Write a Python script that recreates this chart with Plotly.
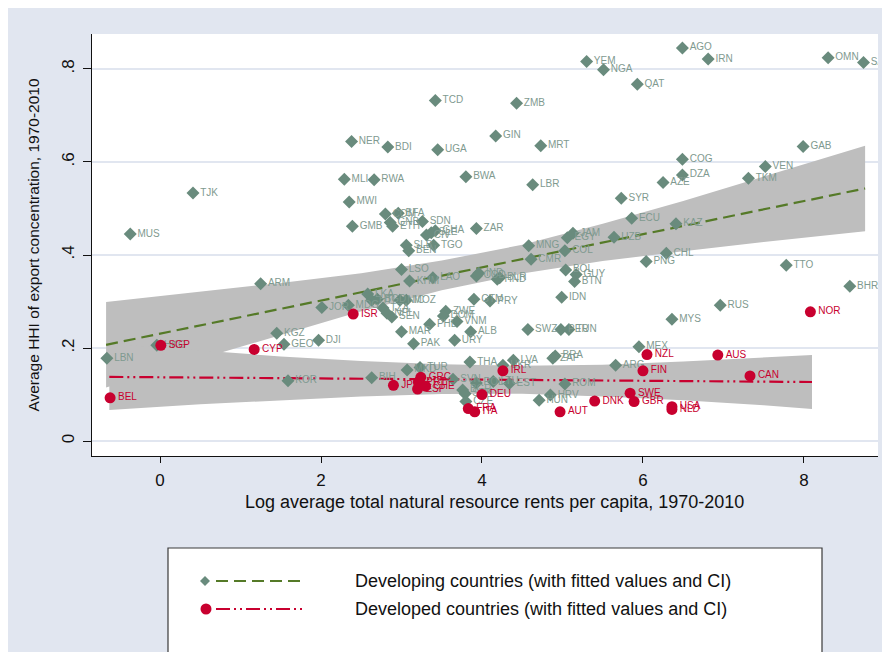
import plotly.graph_objects as go

# ---------------- data ----------------
dev_codes = ["TJK","MUS","NER","MLI","MWI","GMB","YEM","NGA","TCD","ZMB","GIN","MRT","BDI","UGA",
             "RWA","BWA","LBR","COM","BFA","GNB","ETH","SDN","CIV","SLE","GHA","SLB","BEN","TGO",
             "ZAR","EGY","JAM","UZB","ECU","MNG","CMR","COL","BOL","GUY","BTN","IDN","PNG","CHL",
             "TTO","BHR","RUS","MYS","MEX","ARG","SWZ","PER","TUN","ALB","URY","VNM","ZWE","DOM",
             "PHL","MAR","PAK","GTM","PRY","COD","IND","HND","BLR","LSO","KHM","LAO","JOR","MDG",
             "LKA","HTI","BGD","NIC","MOZ","TZA","NPL","SEN","KGZ","GEO","DJI","ARM","LBN","HKG",
             "KOR","BIH","MKD","TUR","SVN","POL","LTU","EST","LVA","UKR","THA","BGR","SVK","CZE",
             "ROM","HRV","HUN","BRA","ZAF","AGO","IRN","QAT","OMN","SAU","GAB","COG","DZA","AZE",
             "VEN","TKM","SYR","KAZ"]
dev_rents = [0.41,-0.37,2.38,2.29,2.35,2.39,5.30,5.51,3.42,4.43,4.17,4.73,2.83,3.45,
             2.66,3.80,4.63,2.80,2.96,2.86,2.89,3.26,3.31,3.37,3.42,3.06,3.09,3.40,
             3.93,5.06,5.13,5.64,5.86,4.58,4.61,5.03,5.04,5.17,5.15,4.99,6.04,6.29,
             7.78,8.57,6.96,6.36,5.95,5.66,4.57,4.98,5.08,3.86,3.66,3.69,3.55,3.52,
             3.35,3.00,3.15,3.90,4.10,3.93,3.96,4.19,4.22,3.00,3.10,3.39,2.01,2.34,
             2.58,2.63,2.70,2.98,3.06,2.77,2.82,2.88,1.45,1.54,1.97,1.25,-0.66,-0.04,
             1.59,2.63,3.07,3.23,3.64,3.93,4.14,4.34,4.39,4.26,3.85,3.76,3.79,3.80,
             5.03,4.85,4.71,4.91,4.88,6.49,6.81,5.93,8.30,8.74,7.99,6.49,6.49,6.25,
             7.52,7.31,5.73,6.41]
dev_hhi = [0.533,0.445,0.644,0.563,0.514,0.462,0.816,0.798,0.732,0.726,0.656,0.635,0.632,0.626,
           0.562,0.568,0.551,0.488,0.490,0.470,0.462,0.472,0.443,0.448,0.452,0.421,0.409,0.421,
           0.457,0.437,0.447,0.438,0.479,0.420,0.391,0.409,0.368,0.358,0.343,0.309,0.386,0.404,
           0.378,0.333,0.292,0.262,0.203,0.163,0.240,0.240,0.240,0.235,0.217,0.257,0.279,0.269,
           0.251,0.235,0.209,0.305,0.301,0.355,0.361,0.348,0.351,0.369,0.344,0.351,0.287,0.292,
           0.316,0.303,0.305,0.303,0.303,0.286,0.275,0.267,0.232,0.208,0.217,0.338,0.178,0.206,
           0.130,0.136,0.153,0.158,0.133,0.125,0.128,0.124,0.174,0.163,0.170,0.110,0.102,0.085,
           0.123,0.099,0.088,0.183,0.178,0.845,0.821,0.767,0.824,0.814,0.633,0.606,0.572,0.556,
           0.590,0.565,0.522,0.467]

dvd_codes = ["SGP","CYP","BEL","ISR","JPN","GRC","PRT","ESP","CHE","DEU","FRA","ITA","IRL","AUT",
             "DNK","SWE","GBR","FIN","NZL","AUS","CAN","USA","NLD","NOR"]
dvd_rents = [0.01,1.17,-0.62,2.40,2.90,3.24,3.21,3.20,3.30,4.00,3.83,3.91,4.26,4.97,
             5.40,5.84,5.89,6.00,6.05,6.93,7.33,6.36,6.36,8.08]
dvd_hhi = [0.206,0.197,0.093,0.273,0.120,0.137,0.127,0.112,0.118,0.100,0.070,0.063,0.151,0.063,
           0.086,0.103,0.085,0.151,0.186,0.185,0.140,0.074,0.068,0.278]

# fitted lines and confidence bands
dev_fit_x = [-0.67, 8.76]
dev_fit_y = [0.207, 0.543]
dev_ci_x = [-0.67, 0.5, 1.5, 2.5, 3.5, 4.5, 5.5, 6.5, 7.5, 8.76]
dev_ci_lo = [0.115, 0.177, 0.228, 0.279, 0.324, 0.360, 0.387, 0.408, 0.428, 0.451]
dev_ci_hi = [0.299, 0.321, 0.340, 0.361, 0.388, 0.422, 0.467, 0.516, 0.568, 0.635]

dvd_fit_x = [-0.63, 8.10]
dvd_fit_y = [0.138, 0.127]
dvd_ci_x = [-0.63, 0.5, 1.5, 2.5, 3.5, 4.5, 5.5, 6.5, 7.5, 8.10]
dvd_ci_lo = [0.067, 0.079, 0.088, 0.096, 0.101, 0.102, 0.096, 0.088, 0.077, 0.069]
dvd_ci_hi = [0.209, 0.195, 0.182, 0.172, 0.165, 0.162, 0.164, 0.171, 0.179, 0.185]

y_ticks = [0, 0.2, 0.4, 0.6, 0.8]
y_ticktext = ["0", ".2", ".4", ".6", ".8"]
x_ticks = [0, 2, 4, 6, 8]

x_title = "Log average total natural resource rents per capita, 1970-2010"
y_title = "Average HHI of export concentration, 1970-2010"
legend_labels = ["Developing countries (with fitted values and CI)",
                 "Developed countries (with fitted values and CI)"]

# ---------------- styles ----------------
BAND = "#bebebe"
GREEN_M = "#698b7d"
GREEN_T = "#7f9a90"
GREEN_L = "#557a28"
RED = "#c8002f"
BG = "#e1e6f0"
FONT = "Arial, Liberation Sans, sans-serif"

OFF = 8  # page body margin: figure origin sits at (8, 8) on the page
W, H = 890, 652
ML, MT = 92 - OFF, 34 - OFF
MR = W - (878 - OFF)
MB = H - (456 - OFF)
PW, PH = W - ML - MR, H - MT - MB


def px_x(p):
    # page pixel -> paper x
    return (p - OFF - ML) / PW


def px_y(p):
    # page pixel -> paper y
    return (H - MB - (p - OFF)) / PH


fig = go.Figure()

# bands
for cx, lo, hi in [(dev_ci_x, dev_ci_lo, dev_ci_hi), (dvd_ci_x, dvd_ci_lo, dvd_ci_hi)]:
    fig.add_trace(go.Scatter(x=cx + cx[::-1], y=hi + lo[::-1], fill="toself", fillcolor=BAND,
                             line=dict(width=0, color=BAND), mode="lines", hoverinfo="skip",
                             showlegend=False))

# fitted lines
fig.add_trace(go.Scatter(x=dev_fit_x, y=dev_fit_y, mode="lines",
                         line=dict(color=GREEN_L, width=2.2, dash="12px,6px"), showlegend=False))
fig.add_trace(go.Scatter(x=dvd_fit_x, y=dvd_fit_y, mode="lines",
                         line=dict(color=RED, width=2.2, dash="14px,4px,2px,4px,2px,4px"),
                         showlegend=False))

# points
fig.add_trace(go.Scatter(x=dev_rents, y=dev_hhi, mode="markers+text", text=dev_codes,
                         textposition="middle right",
                         textfont=dict(family=FONT, size=10, color=GREEN_T),
                         marker=dict(symbol="diamond", size=10, color=GREEN_M),
                         name=legend_labels[0], showlegend=False))
fig.add_trace(go.Scatter(x=dvd_rents, y=dvd_hhi, mode="markers+text", text=dvd_codes,
                         textposition="middle right",
                         textfont=dict(family=FONT, size=10, color=RED),
                         marker=dict(symbol="circle", size=11, color=RED),
                         name=legend_labels[1], showlegend=False))

shapes = []
# legend box
shapes.append(dict(type="rect", xref="paper", yref="paper", x0=px_x(168), x1=px_x(822),
                   y0=px_y(H + 20), y1=px_y(548), fillcolor="white",
                   line=dict(width=1.2, color="#3a3a3a")))
row_y = [581, 609]
# legend row 1
shapes.append(dict(type="path", xref="paper", yref="paper", xsizemode="pixel", ysizemode="pixel",
                   xanchor=px_x(205), yanchor=px_y(row_y[0]),
                   path="M -5 0 L 0 5 L 5 0 L 0 -5 Z", fillcolor=GREEN_M, line=dict(width=0)))
shapes.append(dict(type="line", xref="paper", yref="paper", x0=px_x(216), x1=px_x(302),
                   y0=px_y(row_y[0]), y1=px_y(row_y[0]),
                   line=dict(color=GREEN_L, width=2.2, dash="12px,6px")))
# legend row 2
shapes.append(dict(type="circle", xref="paper", yref="paper", xsizemode="pixel", ysizemode="pixel",
                   xanchor=px_x(206), yanchor=px_y(row_y[1]), x0=-5.5, x1=5.5, y0=-5.5, y1=5.5,
                   fillcolor=RED, line=dict(width=0)))
shapes.append(dict(type="line", xref="paper", yref="paper", x0=px_x(216), x1=px_x(302),
                   y0=px_y(row_y[1]), y1=px_y(row_y[1]),
                   line=dict(color=RED, width=2.2, dash="14px,4px,2px,4px,2px,4px")))

annotations = []
for lbl, ry in zip(legend_labels, row_y):
    annotations.append(dict(text=lbl, xref="paper", yref="paper", x=px_x(353), y=px_y(ry),
                            xanchor="left", yanchor="middle", showarrow=False,
                            font=dict(family=FONT, size=18, color="#111111")))
# x-axis title
annotations.append(dict(text=x_title, xref="paper", yref="paper", x=px_x(495), y=px_y(502),
                        xanchor="center", yanchor="middle", showarrow=False,
                        font=dict(family=FONT, size=18, color="#111111")))

fig.update_layout(
    width=W, height=H,
    margin=dict(l=ML, r=MR, t=MT, b=MB, autoexpand=False),
    paper_bgcolor=BG, plot_bgcolor="white",
    font=dict(family=FONT, color="#111111"),
    shapes=shapes, annotations=annotations,
    showlegend=False,
    xaxis=dict(range=[-0.845, 8.92], tickvals=x_ticks, ticks="outside", ticklen=6,
               tickcolor="#111111", tickfont=dict(size=17), ticklabelstandoff=3,
               showgrid=False, zeroline=False,
               showline=True, linecolor="#111111", linewidth=1),
    yaxis=dict(range=[-0.032, 0.875], tickvals=y_ticks, ticktext=y_ticktext, tickangle=-90,
               ticks="outside", ticklen=8, tickcolor="#111111", tickfont=dict(size=17),
               ticklabelstandoff=2,
               showgrid=True, gridcolor=BG, gridwidth=1.6, zeroline=False,
               showline=True, linecolor="#111111", linewidth=1,
               title=dict(text=y_title, font=dict(size=15.5), standoff=15)),
)

fig.write_html("out.html")
